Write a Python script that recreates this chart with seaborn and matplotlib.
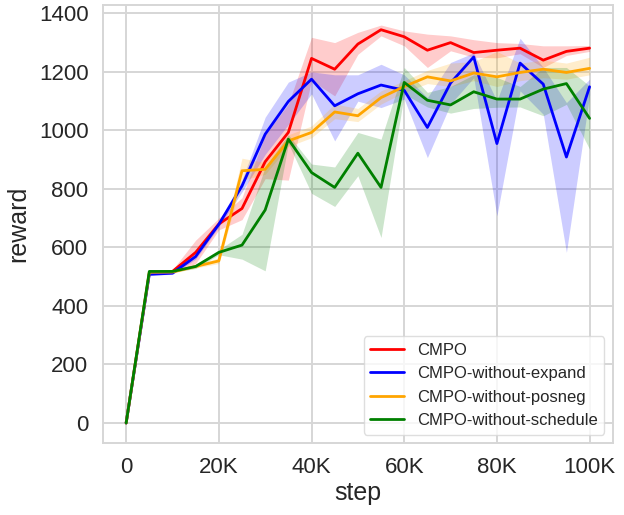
import matplotlib
matplotlib.use("Agg")
import matplotlib.pyplot as plt
import matplotlib.ticker as mticker
import seaborn as sns
import pandas as pd

# training steps and rewards
steps = [0, 5000, 10000, 15000, 20000, 25000, 30000, 35000, 40000, 45000, 50000,
         55000, 60000, 65000, 70000, 75000, 80000, 85000, 90000, 95000, 100000]

cmpo_mean = [0, 512, 518, 583, 680, 733, 893, 993, 1246, 1209, 1295,
             1344, 1320, 1274, 1300, 1266, 1274, 1281, 1240, 1270, 1281]
cmpo_low = [0, 508, 512, 545, 660, 695, 835, 830, 1170, 1118, 1260,
            1323, 1289, 1215, 1272, 1250, 1248, 1262, 1215, 1256, 1270]
cmpo_high = [0, 516, 524, 625, 700, 770, 985, 1090, 1318, 1300, 1335,
             1360, 1340, 1329, 1323, 1310, 1300, 1297, 1289, 1289, 1290]

expand_mean = [0, 508, 512, 569, 679, 810, 987, 1099, 1175, 1084, 1125,
               1155, 1137, 1010, 1162, 1251, 955, 1230, 1158, 909, 1149]
expand_low = [0, 505, 508, 560, 670, 790, 918, 1020, 1125, 964, 1100,
              1078, 1107, 907, 1090, 1180, 708, 1135, 1055, 583, 1120]
expand_high = [0, 512, 516, 580, 690, 830, 1045, 1165, 1200, 1190, 1190,
               1226, 1190, 1112, 1232, 1265, 1101, 1315, 1215, 1095, 1175]

posneg_mean = [0, 515, 516, 535, 554, 862, 867, 964, 993, 1063, 1050,
               1112, 1150, 1183, 1169, 1196, 1183, 1198, 1209, 1198, 1212]
posneg_low = [0, 512, 512, 530, 545, 830, 850, 945, 975, 1040, 1030,
              1090, 1130, 1160, 1150, 1170, 1150, 1170, 1180, 1175, 1190]
posneg_high = [0, 518, 520, 540, 565, 905, 890, 985, 1015, 1090, 1075,
               1135, 1170, 1205, 1230, 1235, 1270, 1230, 1240, 1230, 1250]

schedule_mean = [0, 518, 518, 535, 583, 608, 728, 970, 856, 805, 922,
                 805, 1164, 1103, 1087, 1132, 1107, 1107, 1141, 1160, 1041]
schedule_low = [0, 515, 515, 528, 575, 560, 520, 955, 785, 740, 845,
                634, 1124, 1080, 1059, 1075, 1079, 1080, 1050, 1089, 936]
schedule_high = [0, 521, 521, 542, 592, 645, 875, 985, 885, 875, 993,
                 970, 1215, 1130, 1150, 1190, 1181, 1150, 1215, 1215, 1152]

methods = ["CMPO", "CMPO-without-expand", "CMPO-without-posneg", "CMPO-without-schedule"]
colors = ["red", "blue", "orange", "green"]

means = [cmpo_mean, expand_mean, posneg_mean, schedule_mean]
lows = [cmpo_low, expand_low, posneg_low, schedule_low]
highs = [cmpo_high, expand_high, posneg_high, schedule_high]

rows = []
for name, m, lo, hi in zip(methods, means, lows, highs):
    for s, a, b, c in zip(steps, m, lo, hi):
        rows.append({"step": s, "reward": a, "low": b, "high": c, "method": name})
df = pd.DataFrame(rows)

sns.set_style("whitegrid", {"grid.color": "#d6d6d6", "axes.edgecolor": "#d6d6d6"})
plt.rcParams["font.family"] = ["Liberation Sans", "DejaVu Sans"]
plt.rcParams["grid.linewidth"] = 1.4
plt.rcParams["axes.linewidth"] = 1.4

fig, ax = plt.subplots(figsize=(6.24, 5.15), dpi=100)
fig.subplots_adjust(left=0.165, right=0.982, top=0.99, bottom=0.14)

sns.lineplot(data=df, x="step", y="reward", hue="method", hue_order=methods,
             palette=colors, linewidth=2, errorbar=None, ax=ax)

for name, col in zip(methods, colors):
    sub = df[df["method"] == name]
    ax.fill_between(sub["step"], sub["low"], sub["high"], color=col, alpha=0.2, linewidth=0)

ax.xaxis.set_major_formatter(mticker.FuncFormatter(
    lambda v, p: "0" if v == 0 else f"{int(v / 1000)}K"))
ax.set_xlabel("step", fontsize=18, labelpad=2)
ax.set_ylabel("reward", fontsize=18, labelpad=6)
ax.tick_params(labelsize=16, pad=7)

leg = ax.legend(loc="lower right", fontsize=12, title=None)
leg.get_frame().set_edgecolor("#d6d6d6")

fig.savefig("out.png", dpi=100)
